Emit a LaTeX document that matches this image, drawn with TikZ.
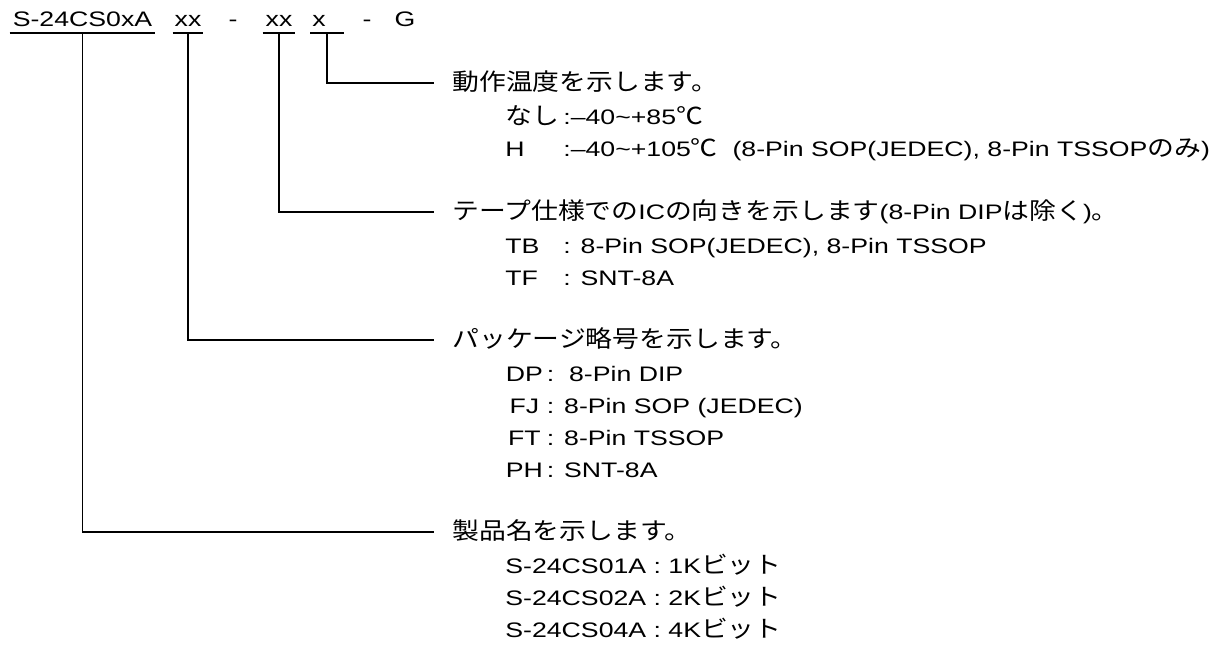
\documentclass[tikz,border=0pt]{standalone}
\usepackage{fontspec}
\setmainfont{Liberation Sans}[FakeStretch=1.27]
\newfontfamily\jpfont{Noto Sans CJK JP}[Scale=1.12,FakeStretch=1.14]
\usepackage{tikz}
\usetikzlibrary{positioning}

\begin{document}
\begin{tikzpicture}[
 x=0.5pt,y=-0.5pt,
 font=\fontsize{10.5pt}{12pt}\selectfont,
 code/.style={anchor=base,inner xsep=0pt,inner ysep=3pt,text depth=0pt},
 head/.style={anchor=base west,inner xsep=9pt,inner ysep=0pt,
   text height=9pt,text depth=1pt},
 item/.style={anchor=base west,inner sep=0pt},
 lead/.style={line width=0.9pt}
]
\useasboundingbox (0,0) rectangle (1223,652);
% part number
\node[code,minimum width=72.5pt] (pname) at (82.5,27) {S-24CS0xA};
\node[code,minimum width=15pt] (pkg) at (188,27) {xx};
\node[code] (dash1) at (233,27) {-};
\node[code,minimum width=16pt] (tape) at (279,27) {xx};
\node[code,anchor=base west,inner xsep=1pt] (temp) at (310,27) {\makebox[14.5pt][l]{x}};
\node[code] (dash2) at (367,27) {-};
\node[code] (grade) at (405,27) {G};
\draw[lead] (pname.south west) -- (pname.south east);
\draw[lead] (pkg.south west) -- (pkg.south east);
\draw[lead] (tape.south west) -- (tape.south east);
\draw[lead] (temp.south west) -- (temp.south east);
% temperature
\node[head] (hd1) at (434,91) {\jpfont 動作温度を示します。};
\node[item] (t1) at (505,125) {\makebox[29pt][l]{\jpfont なし}:--40\textasciitilde+85{\jpfont ℃}};
\node[item] (t2) at (505,157) {\makebox[29pt][l]{H}:--40\textasciitilde+105{\jpfont ℃}\ \ (8-Pin SOP(JEDEC), 8-Pin TSSOP{\jpfont のみ})};
% tape
\node[head] (hd2) at (434,220) {{\jpfont テープ仕様での}IC{\jpfont の向きを示します}(8-Pin DIP{\jpfont は除く}){\jpfont 。}};
\node[item] (o1) at (505,254) {\makebox[29pt][l]{TB}: 8-Pin SOP(JEDEC), 8-Pin TSSOP};
\node[item] (o2) at (505,286) {\makebox[29pt][l]{TF}: SNT-8A};
% package
\node[head] (hd3) at (434,348) {\jpfont パッケージ略号を示します。};
\node[item] (p1) at (505,382) {\makebox[19pt][c]{DP}\,:\ \ 8-Pin DIP};
\node[item] (p2) at (505,414) {\makebox[19pt][c]{FJ}\,: 8-Pin SOP (JEDEC)};
\node[item] (p3) at (505,446) {\makebox[19pt][c]{FT}\,: 8-Pin TSSOP};
\node[item] (p4) at (505,478) {\makebox[19pt][c]{PH}\,: SNT-8A};
% product
\node[head] (hd4) at (434,540) {\jpfont 製品名を示します。};
\node[item] (n1) at (505,574) {S-24CS01A : 1K{\jpfont ビット}};
\node[item] (n2) at (505,606) {S-24CS02A : 2K{\jpfont ビット}};
\node[item] (n3) at (505,638) {S-24CS04A : 4K{\jpfont ビット}};
\draw[lead] (temp.south) |- (hd1.west);
\draw[lead] (tape.south) |- (hd2.west);
\draw[lead] (pkg.south) |- (hd3.west);
\draw[lead] (pname.south) |- (hd4.west);
\end{tikzpicture}
\end{document}
